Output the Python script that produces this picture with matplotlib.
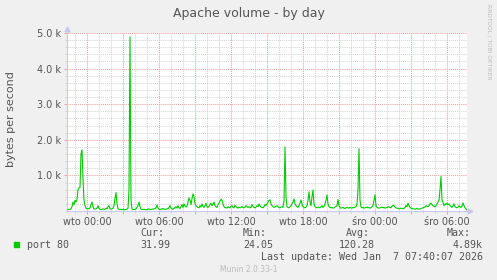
import numpy as np
import matplotlib
matplotlib.use("Agg")
import matplotlib.pyplot as plt
from matplotlib.ticker import FixedLocator, MultipleLocator, FuncFormatter

# 5-minute samples, first one at Mon 22:20 (hours relative to Tue 00:00)
start_hour = -100 / 60.0
step_hour = 5 / 60.0

volume = [
    40, 50, 45, 60, 120, 250, 180, 300, 250, 320, 600, 650, 660, 1600, 1720, 900, 300, 150, 80, 60,
    70, 60, 90, 180, 250, 120, 60, 50, 60, 80, 150, 70, 50, 40, 50, 60, 50, 45, 80, 60,
    120, 150, 70, 50, 60, 80, 150, 350, 520, 200, 60, 50, 40, 45, 40, 50, 40, 35, 40, 50,
    80, 600, 4890, 300, 60, 40, 45, 40, 60, 100, 150, 250, 120, 50, 40, 45, 50, 40, 35, 40,
    50, 60, 45, 40, 50, 55, 60, 70, 90, 170, 80, 50, 45, 50, 60, 70, 55, 50, 45, 60,
    70, 90, 150, 80, 60, 50, 70, 100, 120, 80, 150, 90, 70, 120, 180, 100, 200, 150, 110, 140,
    250, 370, 300, 180, 350, 480, 400, 200, 150, 120, 100, 90, 150, 110, 200, 130, 100, 150, 220, 120,
    100, 130, 180, 220, 150, 200, 250, 150, 120, 100, 180, 220, 280, 330, 300, 200, 120, 90, 100, 80,
    120, 100, 90, 130, 150, 100, 90, 160, 120, 100, 80, 110, 90, 100, 130, 100, 90, 110, 150, 120,
    100, 120, 90, 100, 180, 130, 100, 90, 110, 150, 120, 200, 140, 110, 100, 90, 120, 180, 150, 200,
    250, 300, 310, 200, 150, 120, 100, 110, 130, 150, 120, 100, 90, 110, 120, 100, 300, 1800, 400, 120,
    100, 90, 120, 150, 200, 250, 340, 200, 150, 120, 100, 150, 220, 310, 200, 120, 100, 90, 110, 150,
    300, 535, 250, 150, 400, 590, 200, 120, 100, 90, 110, 100, 90, 120, 150, 100, 130, 200, 300, 450,
    200, 120, 100, 90, 100, 80, 90, 110, 130, 150, 320, 150, 100, 80, 90, 100, 80, 70, 90, 100,
    90, 80, 100, 90, 80, 100, 90, 110, 120, 200, 600, 1750, 300, 120, 90, 100, 80, 90, 100, 110,
    90, 100, 80, 90, 120, 150, 300, 450, 150, 100, 90, 80, 90, 100, 110, 90, 100, 80, 90, 100,
    110, 120, 100, 90, 130, 160, 150, 110, 90, 80, 70, 60, 70, 80, 70, 60, 80, 90, 150, 120,
    220, 150, 100, 80, 70, 60, 60, 50, 60, 70, 60, 50, 60, 70, 80, 90, 100, 110, 150, 130,
    120, 150, 200, 220, 180, 150, 130, 120, 150, 200, 250, 300, 600, 970, 300, 250, 150, 200, 180, 220,
    180, 200, 150, 120, 100, 150, 200, 120, 100, 90, 110, 150, 120, 100, 130, 230, 150, 90, 60, 32,
]

tick_hours = [0, 6, 12, 18, 24, 30]
tick_labels = ["wto 00:00", "wto 06:00", "wto 12:00", "wto 18:00", "śro 00:00", "śro 06:00"]
ytick_vals = [1000, 2000, 3000, 4000, 5000]
ytick_labels = ["1.0 k", "2.0 k", "3.0 k", "4.0 k", "5.0 k"]

stat_names = ["Cur:", "Min:", "Avg:", "Max:"]
stat_values = ["31.99", "24.05", "120.28", "4.89k"]
series_name = "port 80"
last_update = "Last update: Wed Jan  7 07:40:07 2026"

W, H = 497, 280
BG = "#F0F0F0"
TXT = "#555555"
AXC = "#C8C8F0"
MAJ = "#EBA0A0"
MIN = "#D4D4D4"


def fx(x):
    return x / W


def fy(y):
    return 1 - y / H


fig = plt.figure(figsize=(W / 100, H / 100), dpi=100, facecolor=BG)
ax = fig.add_axes([fx(67), fy(211), 400 / W, 178 / H])
ax.set_facecolor("white")

n = len(volume)
t = start_hour + step_hour * np.arange(1, n + 1)
ax.plot(t, volume, color="#00CC00", lw=0.8, zorder=3)

ax.set_xlim(start_hour, start_hour + n * step_hour)
ax.set_ylim(0, 5000)

# grid: minor every hour / 200, major every 3h / 1k
ax.xaxis.set_major_locator(MultipleLocator(3))
ax.xaxis.set_minor_locator(MultipleLocator(1))
ax.yaxis.set_major_locator(FixedLocator(ytick_vals))
ax.yaxis.set_minor_locator(MultipleLocator(200))
ax.grid(which="minor", color=MIN, ls=(0, (1, 1)), lw=0.75)
ax.grid(which="major", color=MAJ, ls=(0, (1, 1)), lw=0.75)
ax.set_axisbelow(True)

lab = dict(zip(tick_hours, tick_labels))
ax.xaxis.set_major_formatter(FuncFormatter(lambda v, p: lab.get(int(round(v)), "") if abs(v - round(v)) < 1e-6 else ""))
ylab = dict(zip(ytick_vals, ytick_labels))
ax.yaxis.set_major_formatter(FuncFormatter(lambda v, p: ylab.get(int(round(v)), "")))

ax.tick_params(axis="both", which="major", length=2.5, width=0.7, color=MAJ,
               labelsize=7, labelcolor=TXT, pad=2)
ax.tick_params(axis="both", which="minor", length=1.5, width=0.7, color=MIN)

for s in ["top", "right"]:
    ax.spines[s].set_visible(False)
for s in ["left", "bottom"]:
    ax.spines[s].set_color(AXC)
    ax.spines[s].set_linewidth(0.8)

# axis arrows
ax.plot([start_hour], [5000 * 1.025], marker="^", color=AXC, ms=3.5, clip_on=False, zorder=4)
ax.plot([start_hour + n * step_hour + 0.25], [0], marker=">", color=AXC, ms=3.5, clip_on=False, zorder=4)
ax.plot([start_hour, start_hour], [5000, 5000 * 1.025], color=AXC, lw=0.8, clip_on=False)
ax.plot([start_hour + n * step_hour, start_hour + n * step_hour + 0.25], [0, 0], color=AXC, lw=0.8, clip_on=False)

fig.text(fx(249), fy(13), "Apache volume - by day", ha="center", va="center", fontsize=9, color=TXT)
fig.text(fx(11), fy(119), "bytes per second", ha="center", va="center", rotation=90, fontsize=8, color=TXT)
fig.text(fx(489), fy(42), "RRDTOOL / TOBI OETIKER", ha="center", va="center", rotation=270, fontsize=4.2, color="#BBBBBB")

mono = "DejaVu Sans Mono"
fig.patches.append(plt.Rectangle((fx(14), fy(247)), 5 / W, 5 / H, transform=fig.transFigure,
                                 color="#00CC00", figure=fig))
fig.text(fx(27), fy(245.5), series_name, ha="left", va="center", fontsize=7.2, family=mono, color=TXT)
stat_x = [140, 243, 346, 447]
for name, x in zip(stat_names, stat_x):
    fig.text(fx(x), fy(233.5), name, ha="left", va="center", fontsize=7.2, family=mono, color=TXT)
val_right = [170, 273, 375, 483]
for val, x in zip(stat_values, val_right):
    fig.text(fx(x), fy(245.5), val, ha="right", va="center", fontsize=7.2, family=mono, color=TXT)
fig.text(fx(483), fy(257.5), last_update, ha="right", va="center", fontsize=7.2, family=mono, color=TXT)
fig.text(fx(249), fy(269), "Munin 2.0.33-1", ha="center", va="center", fontsize=5.5, color="#BBBBBB")

fig.savefig("out.png", dpi=100, facecolor=BG)
